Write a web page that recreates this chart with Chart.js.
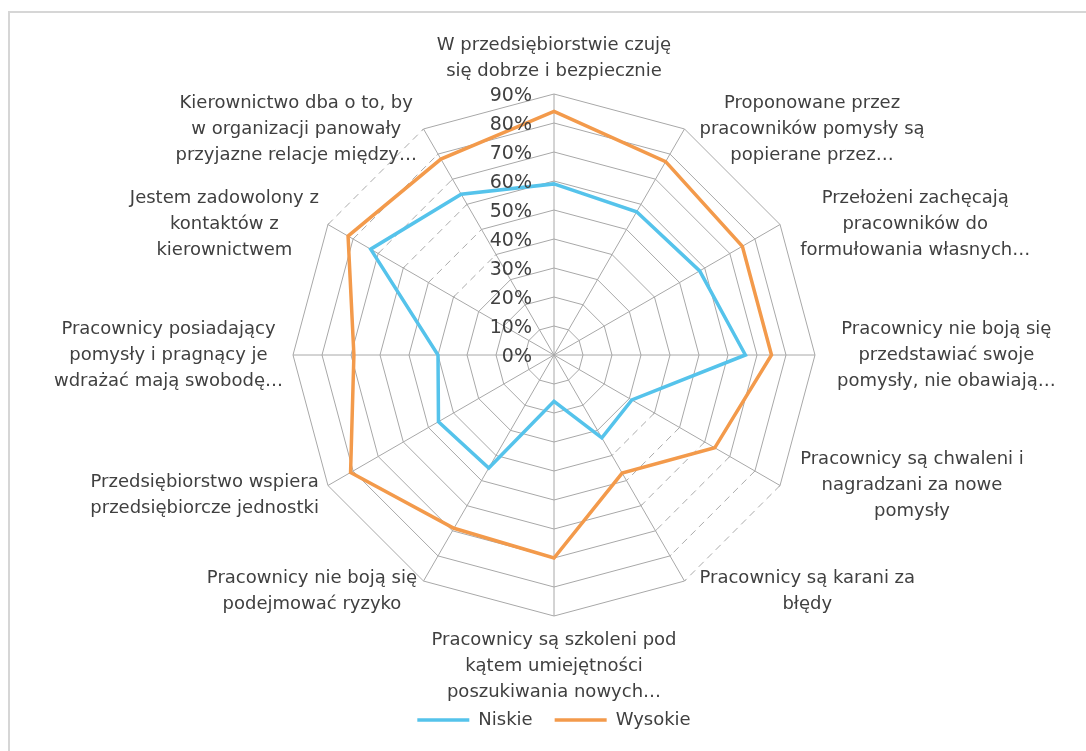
<!DOCTYPE html>
<html lang="pl">
<head>
<meta charset="utf-8">
<script src="https://cdn.jsdelivr.net/npm/chart.js@4.4.0/dist/chart.umd.min.js"></script>
<style>
  html, body { margin: 0; padding: 0; background: #fff; }
  .frame { position: absolute; left: 8px; top: 11px; width: 1100px; height: 800px; border: 2px solid #d6d6d6; }
  .wrap { position: absolute; left: 0; top: 0; width: 1086px; height: 751px; }
</style>
</head>
<body>
<div class="frame"></div>
<div class="wrap"><canvas id="radar"></canvas></div>
<script>
// etykiety osi (podzielone na linie jak na wykresie)
const categories = [
  ["W przedsiębiorstwie czuję", "się dobrze i bezpiecznie"],
  ["Proponowane przez", "pracowników pomysły są", "popierane przez…"],
  ["Przełożeni zachęcają", "pracowników do", "formułowania własnych…"],
  ["Pracownicy nie boją się", "przedstawiać swoje", "pomysły, nie obawiają…"],
  ["Pracownicy są chwaleni i", "nagradzani za nowe", "pomysły"],
  ["Pracownicy są karani za", "błędy"],
  ["Pracownicy są szkoleni pod", "kątem umiejętności", "poszukiwania nowych…"],
  ["Pracownicy nie boją się", "podejmować ryzyko"],
  ["Przedsiębiorstwo wspiera", "przedsiębiorcze jednostki"],
  ["Pracownicy posiadający", "pomysły i pragnący je", "wdrażać mają swobodę…"],
  ["Jestem zadowolony z", "kontaktów z", "kierownictwem"],
  ["Kierownictwo dba o to, by", "w organizacji panowały", "przyjazne relacje między…"]
];

// wartości w %
const niskie  = [59, 57, 58, 66, 31, 33, 16, 45, 46, 40, 73, 64];
const wysokie = [84, 77, 75, 75, 64, 47, 70, 69, 81, 69, 82, 78];

const tickValues = [0, 10, 20, 30, 40, 50, 60, 70, 80, 90];

// odcinki siatki, które na oryginale wyglądają na przerywane
const dashedSegments = [[4, 5], [10, 11]];
const dashedRings = [40, 50, 60, 70, 80, 90];

const TEXT = "#404040";
const FONT = "DejaVu Sans";

const dashPlugin = {
  id: "dashPlugin",
  beforeDatasetsDraw(chart) {
    const scale = chart.scales.r;
    const ctx = chart.ctx;
    ctx.save();
    dashedSegments.forEach(([a, b]) => {
      dashedRings.forEach(v => {
        const d = scale.getDistanceFromCenterForValue(v);
        const p1 = scale.getPointPosition(a, d);
        const p2 = scale.getPointPosition(b, d);
        const len = Math.hypot(p2.x - p1.x, p2.y - p1.y);
        const ux = (p2.x - p1.x) / len, uy = (p2.y - p1.y) / len;
        // zamaluj ciągłą linię
        ctx.setLineDash([]);
        ctx.strokeStyle = "#fff";
        ctx.lineWidth = 3;
        ctx.beginPath();
        ctx.moveTo(p1.x + ux * 2, p1.y + uy * 2);
        ctx.lineTo(p2.x - ux * 2, p2.y - uy * 2);
        ctx.stroke();
        // narysuj przerywaną
        ctx.setLineDash([7, 5]);
        ctx.strokeStyle = "#ababab";
        ctx.lineWidth = 1;
        ctx.beginPath();
        ctx.moveTo(p1.x, p1.y);
        ctx.lineTo(p2.x, p2.y);
        ctx.stroke();
      });
    });
    ctx.restore();
  }
};

// etykiety kategorii (linie wycentrowane w bloku, jak w Excelu) + opisy skali
const labelPlugin = {
  id: "labelPlugin",
  afterDraw(chart) {
    const scale = chart.scales.r;
    const ctx = chart.ctx;
    const R = scale.drawingArea;
    ctx.save();
    ctx.fillStyle = TEXT;

    // opisy skali po lewej stronie osi pionowej
    ctx.font = "19px '" + FONT + "'";
    ctx.textAlign = "right";
    ctx.textBaseline = "middle";
    tickValues.forEach(v => {
      const d = scale.getDistanceFromCenterForValue(v);
      ctx.fillText(v + "%", scale.xCenter - 22, scale.yCenter - d + 2);
    });

    // etykiety kategorii
    ctx.font = "18px '" + FONT + "'";
    ctx.textAlign = "center";
    ctx.textBaseline = "middle";
    const lh = 26;
    categories.forEach((lines, i) => {
      const p = scale.getPointPosition(i, R);
      const s = (p.x - scale.xCenter) / R;   // sin kąta
      const c = (scale.yCenter - p.y) / R;   // cos kąta
      const w = Math.max(...lines.map(l => ctx.measureText(l).width));
      const h = lines.length * lh;
      let cx, cy;
      if (Math.abs(s) < 0.01) {
        cx = p.x;
        cy = c > 0 ? p.y - 10 - h / 2 : p.y + 11 + h / 2;
      } else if (s > 0) {
        cx = p.x + 8 + 14 * s + w / 2;
        cy = p.y + (c < -0.5 ? 10 : 0);
      } else {
        cx = p.x - 3 + 7 * s - w / 2;
        cy = p.y + (c < -0.5 ? 10 : 0);
      }
      const top = cy - h / 2 + lh / 2;
      lines.forEach((ln, k) => ctx.fillText(ln, cx, top + k * lh));
    });
    ctx.restore();
  }
};

new Chart(document.getElementById("radar"), {
  type: "radar",
  data: {
    labels: categories,
    datasets: [
      { label: "Niskie", data: niskie, borderColor: "#55C3EB", backgroundColor: "#55C3EB", borderWidth: 3.5, fill: false, pointRadius: 0 },
      { label: "Wysokie", data: wysokie, borderColor: "#F39A4B", backgroundColor: "#F39A4B", borderWidth: 3.5, fill: false, pointRadius: 0 }
    ]
  },
  options: {
    responsive: true,
    maintainAspectRatio: false,
    animation: false,
    layout: { padding: { top: 21, bottom: 12, left: 293, right: 271 } },
    plugins: {
      legend: {
        position: "bottom",
        labels: {
          usePointStyle: true,
          pointStyle: "line",
          pointStyleWidth: 52,
          boxHeight: 18,
          color: TEXT,
          font: { family: FONT, size: 18 },
          padding: 22
        }
      },
      tooltip: { enabled: false }
    },
    scales: {
      r: {
        min: 0,
        max: 90,
        ticks: { stepSize: 10, display: false },
        grid: { color: "#a8a8a8", lineWidth: 1 },
        angleLines: { color: "#a8a8a8", lineWidth: 1 },
        pointLabels: { display: false }
      }
    }
  },
  plugins: [dashPlugin, labelPlugin]
});
</script>
</body>
</html>
